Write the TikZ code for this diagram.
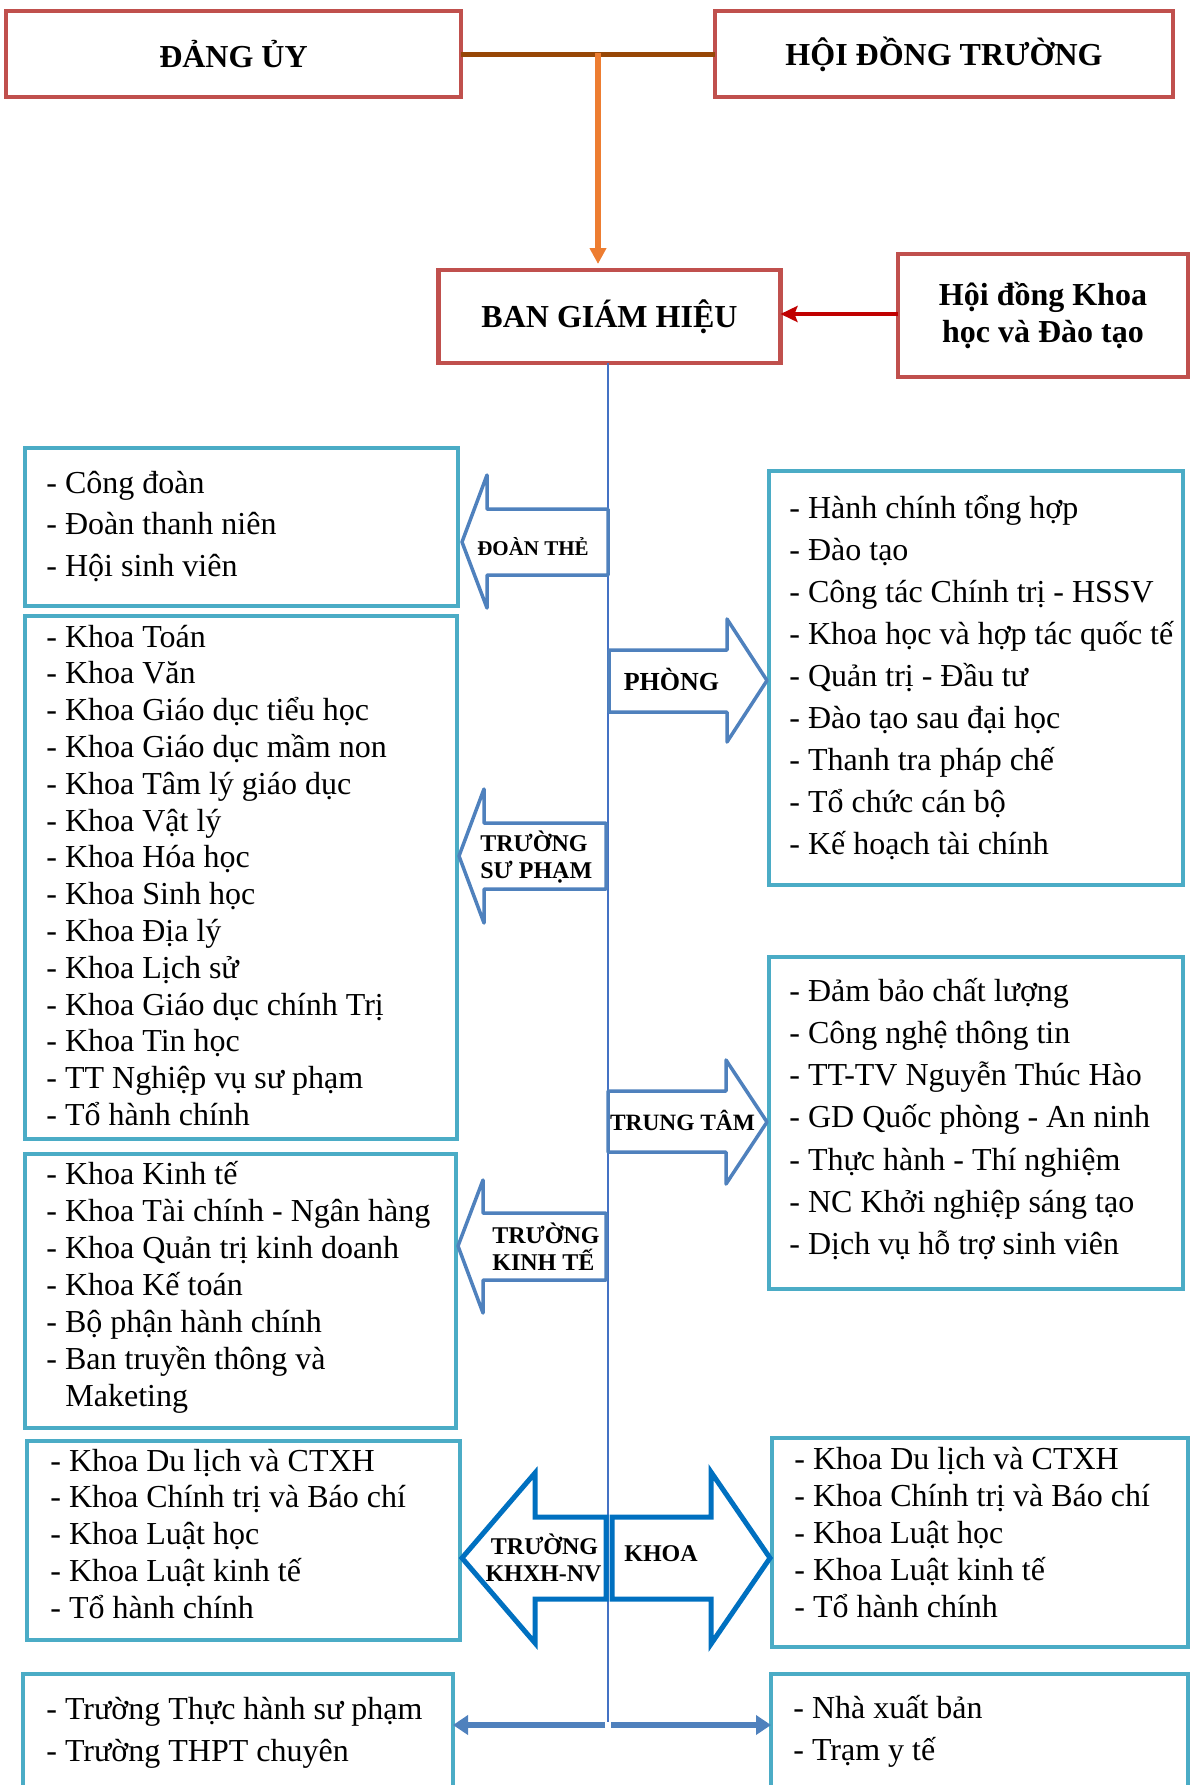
\documentclass[tikz,border=0pt]{standalone}
\usepackage{fontspec}
\setmainfont{Liberation Serif}
\usetikzlibrary{arrows.meta}

\definecolor{boxred}{HTML}{C0504D}
\definecolor{boxteal}{HTML}{4BACC6}
\definecolor{arrowblue}{HTML}{4F81BD}
\definecolor{deepblue}{HTML}{0070C0}
\definecolor{spineblue}{HTML}{4472C4}
\definecolor{linkbrown}{HTML}{974706}
\definecolor{linkorange}{HTML}{ED7D31}
\definecolor{linkred}{HTML}{C00000}

\tikzset{
  redbox/.style={draw=boxred, line width=2.25pt, fill=white, inner sep=0pt, outer sep=0pt,
    align=center, font=\bfseries\fontsize{16}{18.75}\selectfont},
  tealbox/.style={draw=boxteal, line width=2pt, inner sep=0pt, outer sep=0pt, anchor=north west},
  item/.style={anchor=base west, inner sep=0pt, font=\fontsize{16}{19}\selectfont},
  blockarrow/.style={draw=arrowblue, line width=1.75pt, line join=round, fill=white},
  deeparrow/.style={draw=deepblue, line width=2.5pt, line join=miter, fill=white},
  blabel/.style={inner sep=0pt, anchor=base, font=\bfseries\fontsize{12}{14}\selectfont},
}

\begin{document}
\begin{tikzpicture}[x=0.5pt, y=-0.5pt]
\useasboundingbox (0,0) rectangle (1190,1785);
\clip (0,0) rectangle (1190,1785);

% top level boxes
\node[redbox, minimum width=227.5pt, minimum height=43pt] (dang) at (233.5,54) {ĐẢNG ỦY};
\node[redbox, minimum width=229pt, minimum height=43pt] (hdt) at (944,54) {HỘI ĐỒNG TRƯỜNG};
\node[redbox, minimum width=171pt, minimum height=46.5pt] (ban) at (609.5,316.5) {BAN GIÁM HIỆU};
\node[redbox, minimum width=145pt, minimum height=61.5pt] (hdkh) at (1043,315.5) {Hội đồng Khoa\\học và Đào tạo};

% links between the top boxes
\draw[linkbrown, line width=2.5pt] (dang.east) -- (hdt.west);
\coordinate (junc) at (598,53);
\draw[linkorange, line width=3pt, -{Triangle[length=8pt, width=8pt]}, shorten >=3pt]
  (junc) -- (junc |- ban.north);
\coordinate (hdin) at (898,314);
\draw[linkred, line width=1.75pt, -{Stealth[length=8.5pt, width=8pt, inset=1.5pt]}] (hdin) -- (hdin -| ban.east);

% central spine
\coordinate (spinebot) at (608,1722);
\draw[spineblue, line width=1pt] (spinebot |- ban.south) -- (spinebot);

% unit boxes
\node[tealbox, minimum width=216.5pt, minimum height=79pt] (l1) at (25,448) {};
\node[tealbox, minimum width=216pt, minimum height=261.5pt] (l2) at (25,616) {};
\node[tealbox, minimum width=215.5pt, minimum height=137pt] (l3) at (25,1154) {};
\node[tealbox, minimum width=216.5pt, minimum height=99.5pt] (l4) at (27,1441) {};
\node[tealbox, minimum width=215pt, minimum height=63pt] (l5) at (23,1674) {};
\node[tealbox, minimum width=207pt, minimum height=207pt] (r1) at (769,471) {};
\node[tealbox, minimum width=207pt, minimum height=166pt] (r2) at (769,957) {};
\node[tealbox, minimum width=208pt, minimum height=104.5pt] (r3) at (772,1438) {};
\node[tealbox, minimum width=208.5pt, minimum height=63pt] (r4) at (771,1674) {};

% unit lists
\foreach \t [count=\i from 0] in {Công đoàn, Đoàn thanh niên, Hội sinh viên}
  \node[item] (l1-\i) at (46,493+41.6*\i) {- \t};
\foreach \t [count=\i from 0] in {Khoa Toán, Khoa Văn, Khoa Giáo dục tiểu học,
  Khoa Giáo dục mầm non, Khoa Tâm lý giáo dục, Khoa Vật lý, Khoa Hóa học,
  Khoa Sinh học, Khoa Địa lý, Khoa Lịch sử, Khoa Giáo dục chính Trị,
  Khoa Tin học, TT Nghiệp vụ sư phạm, Tổ hành chính}
  \node[item] (l2-\i) at (46,647+36.8*\i) {- \t};
\foreach \t [count=\i from 0] in {Khoa Kinh tế, Khoa Tài chính - Ngân hàng,
  Khoa Quản trị kinh doanh, Khoa Kế toán, Bộ phận hành chính, Ban truyền thông và}
  \node[item] (l3-\i) at (46,1184+37*\i) {- \t};
\node[item] (l3-6) at (65,1406) {Maketing};
\foreach \t [count=\i from 0] in {Khoa Du lịch và CTXH, Khoa Chính trị và Báo chí,
  Khoa Luật học, Khoa Luật kinh tế, Tổ hành chính}
  \node[item] (l4-\i) at (50,1471+36.75*\i) {- \t};
\foreach \t [count=\i from 0] in {Trường Thực hành sư phạm, Trường THPT chuyên}
  \node[item] (l5-\i) at (46,1719.5+42*\i) {- \t};

\foreach \t [count=\i from 0] in {Hành chính tổng hợp, Đào tạo, Công tác Chính trị - HSSV,
  Khoa học và hợp tác quốc tế, Quản trị - Đầu tư, Đào tạo sau đại học,
  Thanh tra pháp chế, Tổ chức cán bộ, Kế hoạch tài chính}
  \node[item] (r1-\i) at (789,518+42.1*\i) {- \t};
\foreach \t [count=\i from 0] in {Đảm bảo chất lượng, Công nghệ thông tin,
  TT-TV Nguyễn Thúc Hào, GD Quốc phòng - An ninh, Thực hành - Thí nghiệm,
  NC Khởi nghiệp sáng tạo, Dịch vụ hỗ trợ sinh viên}
  \node[item] (r2-\i) at (789,1001+42.3*\i) {- \t};
\foreach \t [count=\i from 0] in {Khoa Du lịch và CTXH, Khoa Chính trị và Báo chí,
  Khoa Luật học, Khoa Luật kinh tế, Tổ hành chính}
  \node[item] (r3-\i) at (794,1469+37*\i) {- \t};
\foreach \t [count=\i from 0] in {Nhà xuất bản, Trạm y tế}
  \node[item] (r4-\i) at (793,1718.5+42*\i) {- \t};

% block arrows off the spine
\draw[blockarrow] (608,509) -- (487,509) -- (487,475) -- (462,542) -- (487,608)
  -- (487,575) -- (608,575) -- cycle;
\node[blabel, font=\bfseries\fontsize{10.5}{12}\selectfont] (doan) at (533,555) {ĐOÀN THẺ};

\draw[blockarrow] (609,650) -- (727,650) -- (727,619) -- (767,680.5) -- (727,742)
  -- (727,712) -- (609,712) -- cycle;
\node[blabel, font=\bfseries\fontsize{13}{15}\selectfont] (phong) at (671.5,690.5) {PHÒNG};

\draw[blockarrow] (606,823) -- (484,823) -- (484,789) -- (459,856) -- (484,923)
  -- (484,889) -- (606,889) -- cycle;
\node[blabel, anchor=base west] (sp1) at (480,851) {TRƯỜNG};
\node[blabel, anchor=base west] (sp2) at (480,878) {SƯ PHẠM};

\draw[blockarrow] (608,1091) -- (726,1091) -- (726,1060) -- (767,1122) -- (726,1184)
  -- (726,1152) -- (608,1152) -- cycle;
\node[blabel, font=\bfseries\fontsize{11.7}{14}\selectfont] (ttam) at (682.5,1130.5) {TRUNG TÂM};

\draw[blockarrow] (606,1213) -- (483,1213) -- (483,1180) -- (458,1246) -- (483,1313)
  -- (483,1280) -- (606,1280) -- cycle;
\node[blabel, anchor=base west] (kt1) at (492,1243) {TRƯỜNG};
\node[blabel, anchor=base west] (kt2) at (492,1270) {KINH TẾ};

\draw[deeparrow] (606,1517) -- (535,1517) -- (535,1473) -- (462,1558) -- (535,1643)
  -- (535,1599) -- (606,1599) -- cycle;
\node[blabel] (xh1) at (544.5,1554) {TRƯỜNG};
\node[blabel] (xh2) at (543.5,1581) {KHXH-NV};

\draw[deeparrow] (612,1517) -- (711,1517) -- (711,1472) -- (770,1558) -- (711,1644)
  -- (711,1599) -- (612,1599) -- cycle;
\node[blabel] (khoa) at (661,1561.5) {KHOA};

% bottom links to the attached units
\coordinate (bl) at (605,1725);
\coordinate (br) at (611,1725);
\draw[arrowblue, line width=3pt, -{Triangle[length=7.5pt, width=9.5pt]}] (bl) -- (bl -| l5.east);
\draw[arrowblue, line width=3pt, -{Triangle[length=7.5pt, width=9.5pt]}] (br) -- (br -| r4.west);
\end{tikzpicture}
\end{document}
